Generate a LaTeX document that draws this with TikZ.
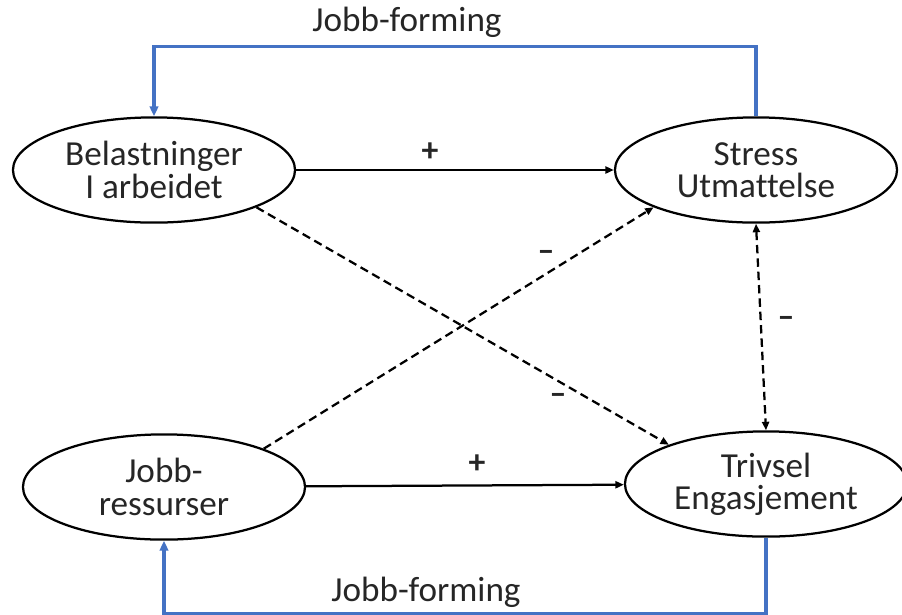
\documentclass[tikz,border=0pt]{standalone}
\usepackage{fontspec}
\setmainfont{Carlito}[Ligatures=CommonOff]
\usetikzlibrary{arrows.meta,shapes.geometric}
\definecolor{formblue}{HTML}{4472C4}
\tikzset{
	factor/.style={draw, ellipse, line width=1.6pt, minimum width=7.05cm, minimum height=2.63cm, inner sep=0pt, align=center, text=black!85, font=\fontsize{25}{23}\selectfont},
	effect/.style={line width=1.6pt, -{Triangle[length=6pt,width=5pt]}},
	weak/.style={effect, dash pattern=on 6pt off 3.5pt},
	mutual/.style={weak, {Triangle[length=6pt,width=5pt]}-{Triangle[length=6pt,width=5pt]}},
	shaping/.style={line width=2.2pt, color=formblue, -{Triangle[length=7pt,width=6pt]}},
	sign/.style={inner sep=0pt, text=black!85, font=\fontsize{24}{24}\selectfont\bfseries},
	shapelabel/.style={inner sep=0pt, text=black!85, font=\fontsize{25}{25}\selectfont}
}

\begin{document}
\begin{tikzpicture}[x=0.025cm, y=-0.025cm]
		%%%%% START %%%%%
		\useasboundingbox (0, 0) rectangle (902, 614);
		
		\node[factor] (bel) at (154, 170) {Belastninger\\I arbeidet};
		\node[factor] (stress) at (756, 170) {Stress\\Utmattelse};
		\node[factor] (ress) at (164, 487) {Jobb-\\ressurser};
		\node[factor] (triv) at (766, 484) {Trivsel\\Engasjement};
		
		\draw[effect] (bel) -- (stress);
		\draw[effect] (ress) -- (triv);
		\draw[weak] (bel.-20) -- (triv.158);
		\draw[weak] (ress.21) -- (stress.200);
		\draw[mutual] (stress.south) -- (triv.north);
		
		\node[sign] (plustop) at (430, 152) {+};
		\node[sign] (plusbot) at (477, 464) {+};
		\node[sign] (minusres) at (546, 256) {–};
		\node[sign] (minusbel) at (558, 399) {–};
		\node[sign] (minusmid) at (786, 322) {–};
		
		% jobb-forming loops
		\draw[shaping] (stress.north) -- ++(0, -70) -| (bel.north);
		\draw[shaping] (triv.south) -- ++(0, 76) -| (ress.south);
		\node[shapelabel] (formtop) at (407, 22) {Jobb-forming};
		\node[shapelabel] (formbot) at (426, 592) {Jobb-forming};
		
		%%%%% END %%%%%
	\end{tikzpicture}
\end{document}
